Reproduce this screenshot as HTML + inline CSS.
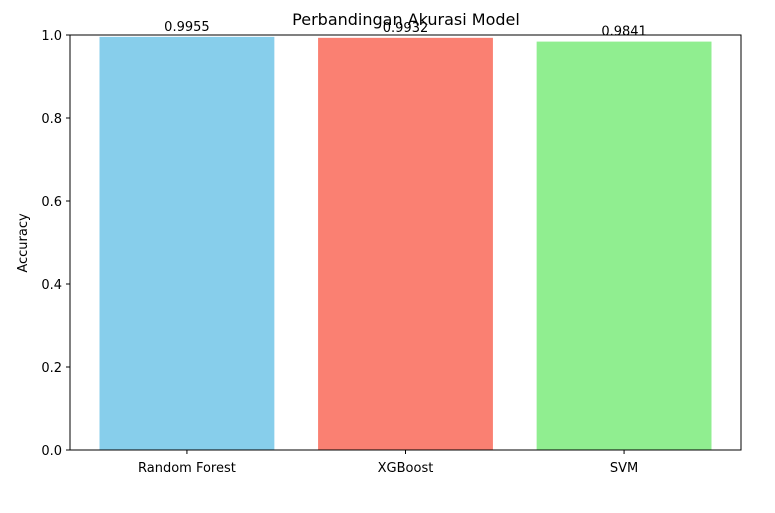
<!DOCTYPE html>
<html><head><meta charset="utf-8">
<style>
html,body{margin:0;padding:0;background:#fff;}
svg{display:block;font-family:"DejaVu Sans","Liberation Sans",sans-serif;}
</style></head>
<body>
<svg id="chart" width="775" height="513">
  <text x="406" y="25" font-size="16" text-anchor="middle" fill="#000">Perbandingan Akurasi Model</text>
  <text transform="translate(27,243) rotate(-90)" font-size="13" text-anchor="middle">Accuracy</text>
  <g id="bars"></g>
  <g id="yticks"></g>
  <g id="xticks"></g>
  <rect x="70" y="35" width="671" height="415" fill="none" stroke="#000" stroke-width="1"/>
  <g id="labels"></g>
</svg>
<script>
const categories = ["Random Forest", "XGBoost", "SVM"];
const values = [0.9955, 0.9932, 0.9841];
const valueLabels = ["0.9955", "0.9932", "0.9841"];
const colors = ["#87ceeb", "#fa8072", "#90ee90"];
const yTicks = [0, 0.2, 0.4, 0.6, 0.8, 1.0];
const yTickLabels = ["0.0", "0.2", "0.4", "0.6", "0.8", "1.0"];

const NS = "http://www.w3.org/2000/svg";
const L = 70, R = 741, T = 35, B = 450;
const xmin = -0.535, xmax = categories.length - 1 + 0.535;
const xs = v => L + (v - xmin) / (xmax - xmin) * (R - L);
const ys = v => B - v / 1.0 * (B - T);
const bw = 0.8 * (R - L) / (xmax - xmin);
function mk(tag, attrs, parent) {
  const e = document.createElementNS(NS, tag);
  for (const k in attrs) e.setAttribute(k, attrs[k]);
  parent.appendChild(e);
  return e;
}
const gb = document.getElementById("bars");
const gl = document.getElementById("labels");
const gx = document.getElementById("xticks");
const gy = document.getElementById("yticks");
categories.forEach((c, i) => {
  const cx = xs(i);
  const r = mk("rect", {x: cx - bw / 2, y: ys(values[i]), width: bw, height: ys(0) - ys(values[i]), fill: colors[i]}, gb);
  
  
  const t = mk("text", {x: cx, y: ys(values[i]) - 6, "font-size": 13, "text-anchor": "middle"}, gl);
  t.textContent = valueLabels[i];
  
  
  mk("line", {x1: cx, x2: cx, y1: B, y2: B + 4, stroke: "#000"}, gx);
  const xt = mk("text", {x: cx, y: B + 22, "font-size": 13, "text-anchor": "middle"}, gx);
  xt.textContent = c;
  
  
});
yTicks.forEach((v, i) => {
  const y = ys(v);
  mk("line", {x1: L - 4, x2: L, y1: y, y2: y, stroke: "#000"}, gy);
  const t = mk("text", {x: L - 8, y: y + 5, "font-size": 13, "text-anchor": "end"}, gy);
  t.textContent = yTickLabels[i];
  
  
});
</script>
</body></html>
